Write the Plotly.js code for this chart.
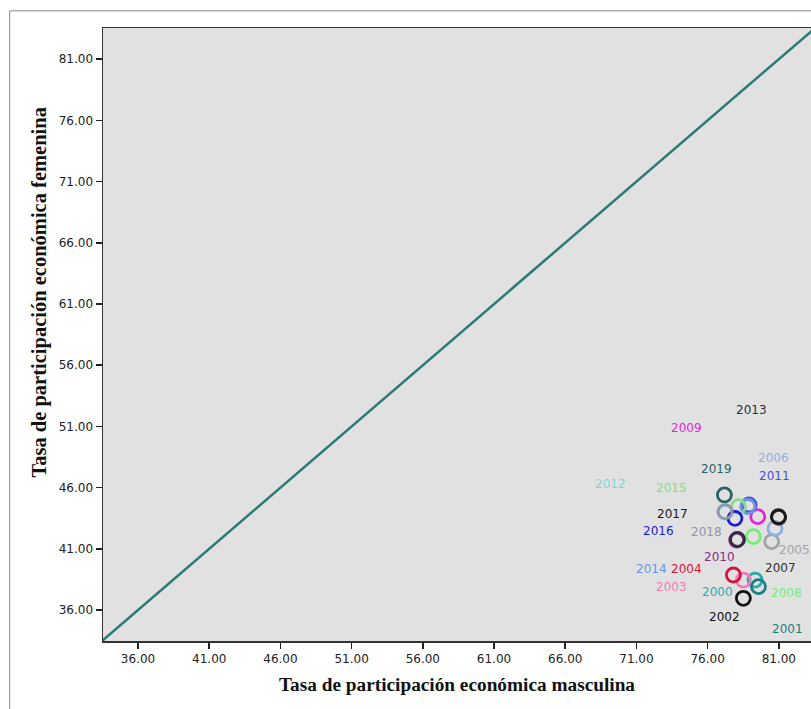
<!DOCTYPE html>
<html>
<head>
<meta charset="utf-8">
<script src="https://cdn.plot.ly/plotly-3.0.1.min.js"></script>
<style>
html,body{margin:0;padding:0;background:#fff;}
#chart{width:811px;height:709px;}
</style>
</head>
<body>
<div id="chart"></div>
<script>
// Data
var years = ['2000','2001','2002','2003','2004','2005','2006','2007','2008','2009',
             '2010','2011','2012','2013','2014','2015','2016','2017','2018','2019'];
var masculina = [79.33, 79.57, 78.51, 78.51, 77.81, 80.50, 80.73, 80.99, 79.22, 79.52,
                 78.04, 78.91, 77.24, 78.10, 78.82, 78.16, 77.92, 80.97, 77.22, 77.18];
var femenina  = [38.45, 37.91, 36.96, 38.45, 38.86, 41.59, 42.67, 43.57, 42.00, 43.63,
                 41.72, 44.58, 43.98, 41.77, 44.46, 44.45, 43.49, 43.63, 44.04, 45.40];
var diagonal = [30, 90];
var xTicks = [36, 41, 46, 51, 56, 61, 66, 71, 76, 81];
var yTicks = [36, 41, 46, 51, 56, 61, 66, 71, 76, 81];
var xTitle = 'Tasa de participación económica masculina';
var yTitle = 'Tasa de participación económica femenina';

// Styles
var colors = ['#27acac','#1f7f7f','#111111','#f07cbc','#d4143c','#a4a4a4','#90b0dc','#333333','#74ee74','#e028d8',
              '#8a2a8a','#4050e0','#7fd6d6','#2e2e40','#6a96e0','#8cd98c','#1c1cd8','#1a1a1a','#9494ac','#2d6262'];
var labelDx = [-38, 29, -19, -72, -47, 23, -1, 2, 33, -71, -17, 25, -115, 14, -96, -67, -76, -106, -18, -8];
var labelDy = [-12, -42, -19, -7, 6, -8, 70, -51, -56, 89, -17, 29, 28, 129, -63, 19, -13, 3, -20, 26];

var traces = [
  {x: diagonal, y: diagonal, mode: 'lines', type: 'scatter',
   line: {color: '#2b7a76', width: 2.5}, hoverinfo: 'skip', showlegend: false},
  {x: masculina, y: femenina, mode: 'markers', type: 'scatter', text: years,
   marker: {symbol: 'circle-open', size: 14, color: colors, line: {width: 2.8}},
   showlegend: false}
];

var annotations = years.map(function(yr, i){
  return {x: masculina[i], y: femenina[i], xref: 'x', yref: 'y', text: yr,
          showarrow: false, xshift: labelDx[i], yshift: labelDy[i],
          font: {family: 'DejaVu Sans', size: 12, color: colors[i]}};
});
annotations.push({
  xref: 'paper', yref: 'paper', x: -0.089, y: 0.57, xanchor: 'center', yanchor: 'middle',
  text: '<b>' + yTitle + '</b>', textangle: -90, showarrow: false,
  font: {family: 'Liberation Serif', size: 20.5, color: '#111'}
});

var tickFont = {family: 'DejaVu Sans', size: 12, color: '#222'};

var layout = {
  width: 811, height: 709,
  margin: {l: 103, r: 0, t: 28, b: 68, pad: 0},
  paper_bgcolor: '#ffffff',
  plot_bgcolor: '#e1e1e1',
  showlegend: false,
  xaxis: {
    range: [33.54, 83.26], tickvals: xTicks, tickformat: '.2f',
    ticks: 'outside', ticklen: 6, tickwidth: 1.5, tickcolor: '#222',
    showgrid: false, zeroline: false, showline: true, linecolor: '#333', linewidth: 1.5, mirror: true,
    tickfont: tickFont,
    title: {text: '<b>' + xTitle + '</b>', font: {family: 'Liberation Serif', size: 19.3, color: '#111'}, standoff: 12}
  },
  yaxis: {
    range: [33.47, 83.55], tickvals: yTicks, tickformat: '.2f',
    ticks: 'outside', ticklen: 6, tickwidth: 1.5, tickcolor: '#222',
    showgrid: false, zeroline: false, showline: true, linecolor: '#333', linewidth: 1.5, mirror: true,
    tickfont: tickFont
  },
  annotations: annotations,
  shapes: [
    {type: 'rect', xref: 'paper', yref: 'paper', x0: -0.1318, x1: 1.3, y0: -0.3, y1: 1.028,
     line: {color: '#8a8a8a', width: 1}, fillcolor: 'rgba(0,0,0,0)', layer: 'below'}
  ]
};

Plotly.newPlot('chart', traces, layout, {displayModeBar: false, staticPlot: true});
</script>
</body>
</html>
